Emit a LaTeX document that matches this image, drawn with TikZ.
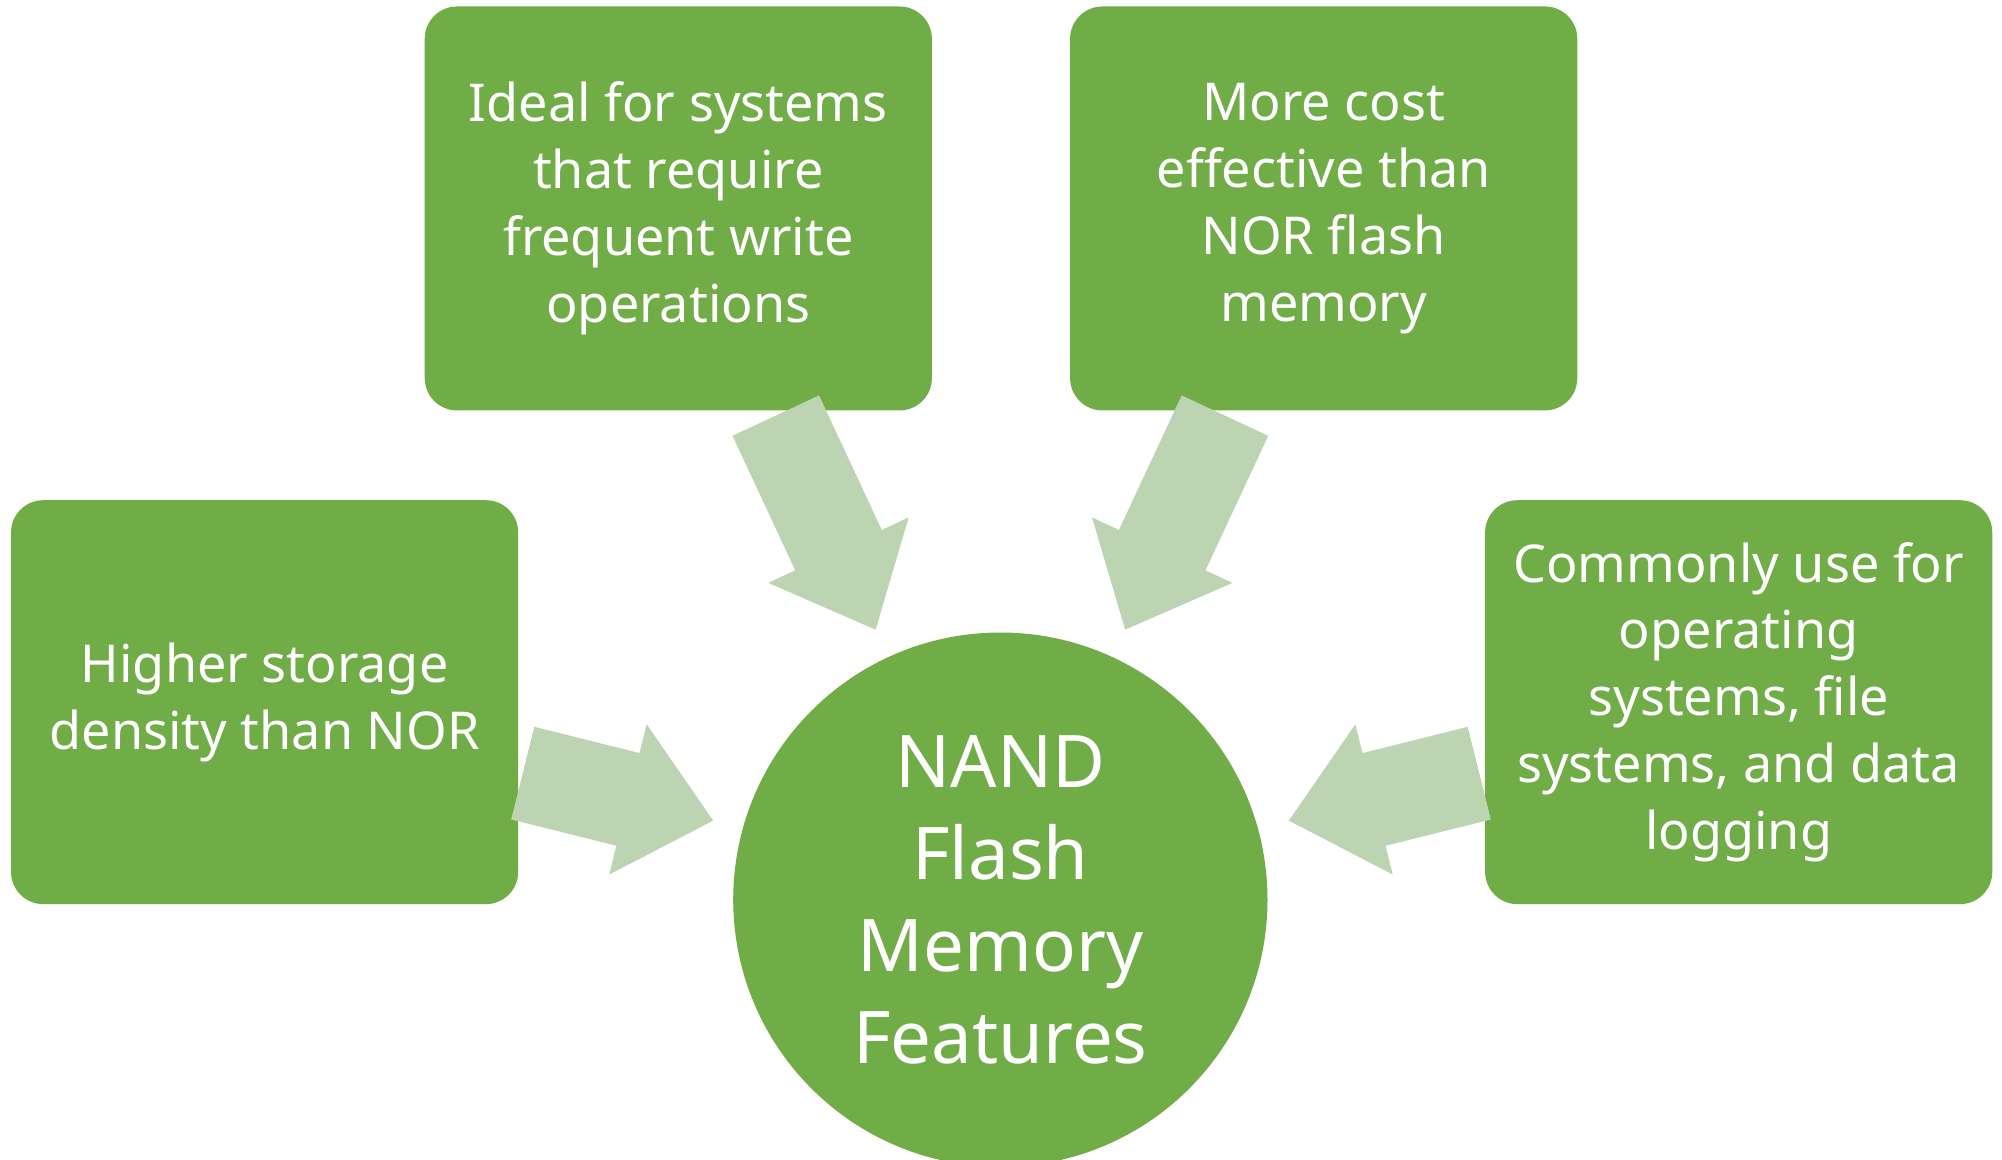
\documentclass[tikz,border=0pt]{standalone}
\usepackage{fontspec}
\setmainfont{Noto Sans}
\begin{document}
\begin{tikzpicture}[x=0.02cm,y=0.02cm]
\definecolor{leafgreen}{HTML}{70AD47}
\definecolor{palegreen}{HTML}{BDD4B3}
\tikzset{box/.style={rectangle,rounded corners=0.5cm,fill=leafgreen,text=white,
    minimum width=7.86cm,minimum height=6.26cm,align=center,
    font=\bfseries\fontsize{23}{29.5}\selectfont},
  hub/.style={circle,fill=leafgreen,text=white,minimum size=8.28cm,align=center,
    font=\bfseries\fontsize{32}{40.5}\selectfont},
  arr/.style={fill=palegreen}}
\newcommand{\blockarrow}[3]{%
  \begin{scope}[shift={#1},rotate=#2]
  \fill[arr] (0,-37)--(#3-68,-37)--(#3-68,-60)--(#3,0)--(#3-68,60)--(#3-68,37)--(0,37)--cycle;
  \end{scope}}

\useasboundingbox (0,0) rectangle (1551,898);

\node[hub] (nand) at (775,201) {NAND\\Flash\\Memory\\Features};
\node[box] (dens) at (205,354) {Higher storage\\density than NOR};
\node[box] (write) at (525.5,736.5) {Ideal for systems\\that require\\frequent write\\operations};
\node[box] (cost) at (1025.5,736.5) {More cost\\effective than\\NOR flash\\memory};
\node[box] (use) at (1347,354) {Commonly use for\\operating\\systems, file\\systems, and data\\logging};

\blockarrow{(405,299)}{-14}{152}
\blockarrow{(1146,299)}{194}{152}
\blockarrow{(601,576)}{-65}{183}
\blockarrow{(949,576)}{-115}{183}
\end{tikzpicture}
\end{document}
